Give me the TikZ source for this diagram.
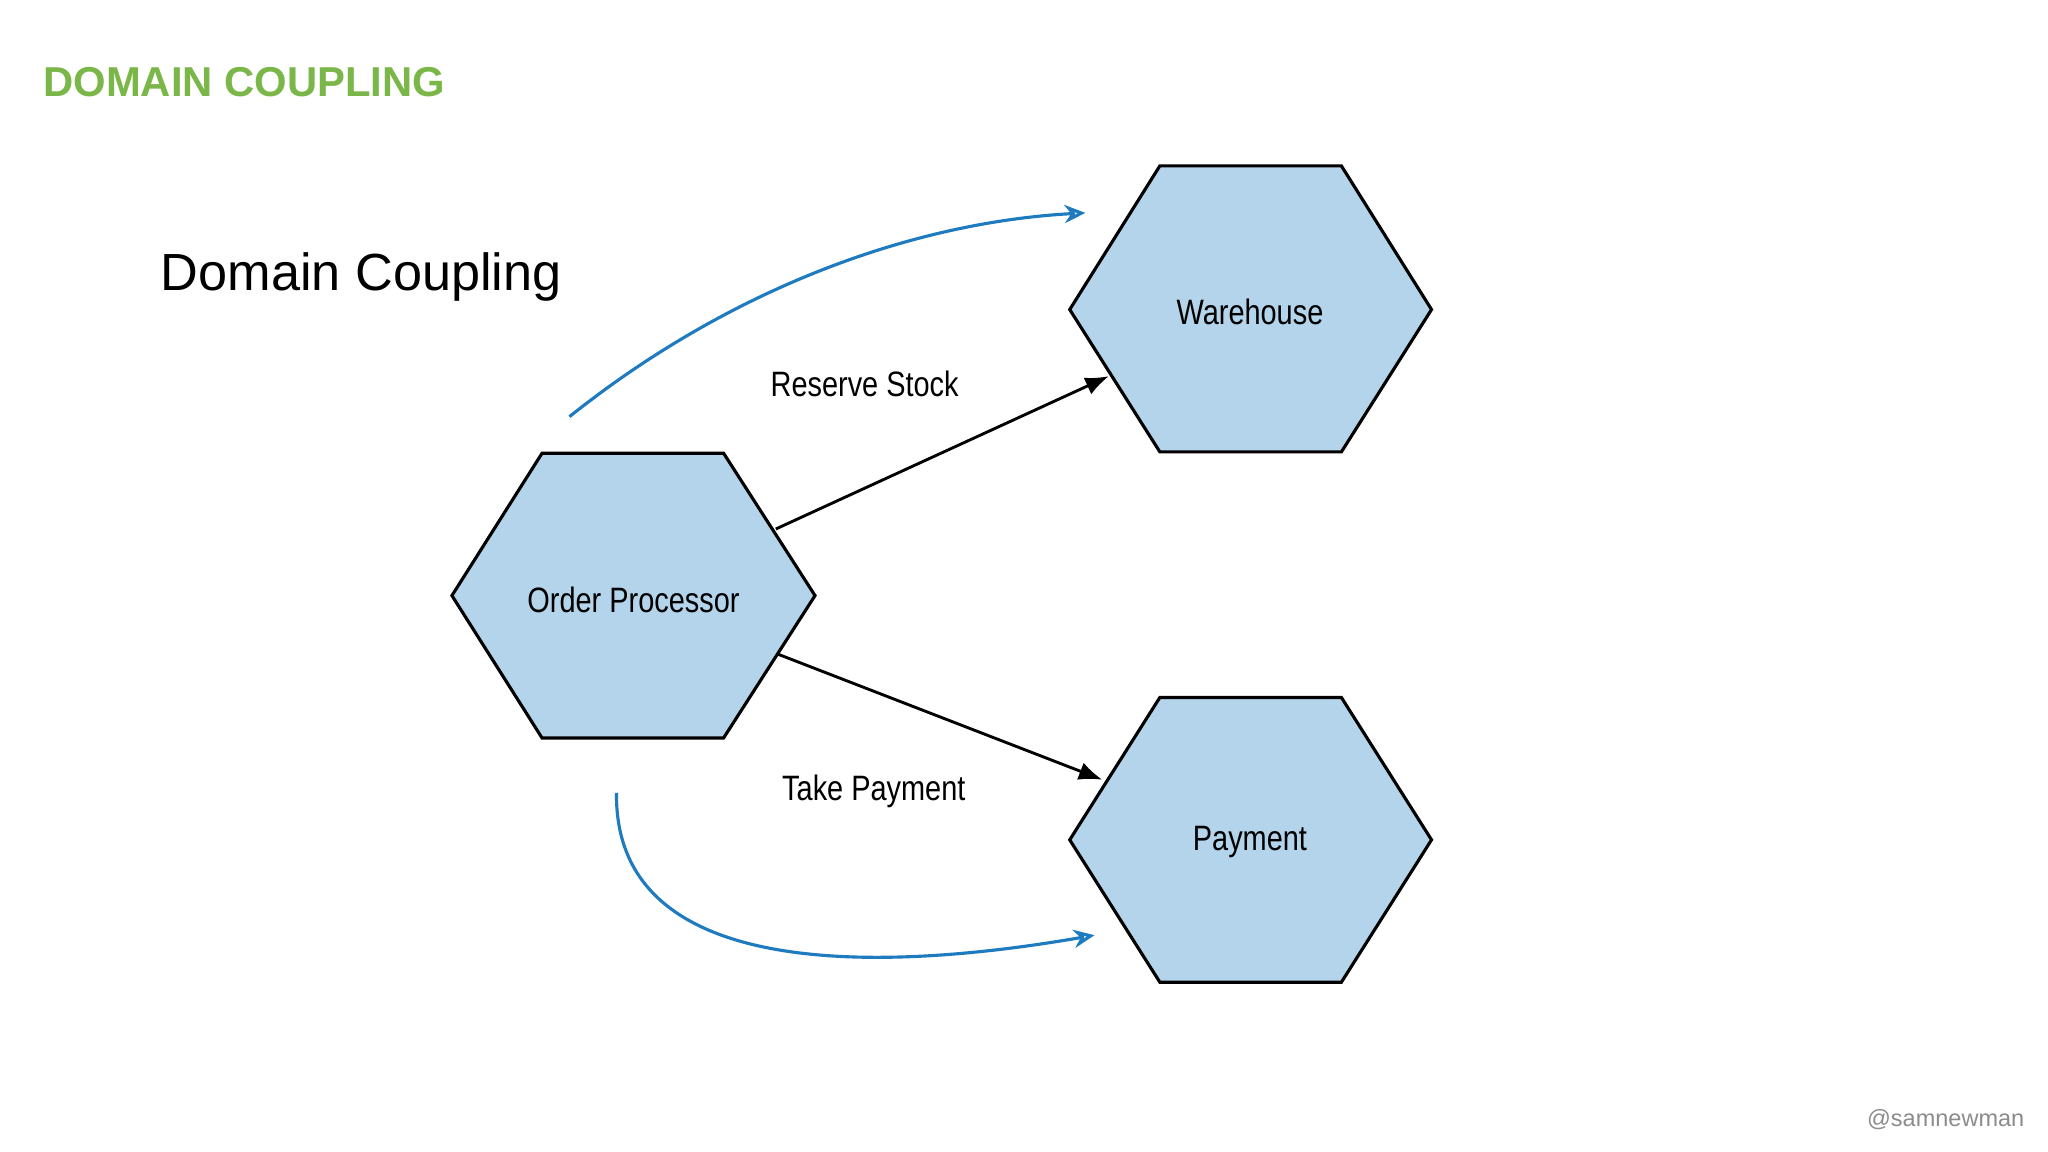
\documentclass[tikz,border=0pt]{standalone}
\usepackage{fontspec}
\setmainfont{Liberation Sans}
\usetikzlibrary{arrows.meta}
\definecolor{hexfill}{HTML}{B3D4EA}
\definecolor{titlegreen}{HTML}{7AB648}
\definecolor{curveblue}{HTML}{1F7BC0}
\tikzset{
  hexa/.style={draw=black, line width=2.4pt, fill=hexfill, line join=miter},
  lbl/.style={font=\fontsize{27}{30}\selectfont, inner sep=0pt},
  flow/.style={draw=black, line width=2.2pt, -{Latex[length=18pt,width=14pt]}},
  hand/.style={draw=curveblue, line width=2.4pt, -{Stealth[length=16pt,width=14pt,open]}}
}
\newcommand{\narrow}[1]{\scalebox{0.82}[1]{#1}}
\begin{document}
\begin{tikzpicture}[x=1pt,y=-1pt]
\useasboundingbox[fill=white] (0,0) rectangle (1568,882);
% hexagons
\draw[hexa] (888,127)--(1027,127)--(1096,237)--(1027,346)--(888,346)--(819,237)--cycle;
\draw[hexa] (415,347)--(554,347)--(624,456)--(554,565)--(415,565)--(346,456)--cycle;
\draw[hexa] (888,534)--(1027,534)--(1096,643)--(1027,752)--(888,752)--(819,643)--cycle;
\node[lbl] (wh) at (957,239) {\narrow{Warehouse}};
\node[lbl] (op) at (485,459) {\narrow{Order Processor}};
\node[lbl] (pay) at (957,645) {\narrow{Payment}};
% connectors
\coordinate (a1) at (594,405); \coordinate (a2) at (849,288);
\coordinate (b1) at (596,501); \coordinate (b2) at (844,597);
\draw[flow] (a1) -- (a2);
\draw[flow] (b1) -- (b2);
\node[lbl] (rs) at (662,294) {\narrow{Reserve Stock}};
\node[lbl] (tp) at (669,606) {\narrow{Take Payment}};
% blue hand curves
\coordinate (c1) at (436,319); \coordinate (c2) at (831,163);
\coordinate (d1) at (472,607); \coordinate (d2) at (838,716);
\draw[hand] (c1) .. controls (560,220) and (700,170) .. (c2);
\draw[hand] (d1) .. controls (470,760) and (700,740) .. (d2);
% titles
\node[anchor=west, font=\bfseries\fontsize{32}{36}\selectfont, text=titlegreen, inner sep=0pt] (title) at (33,63) {DOMAIN COUPLING};
\node[anchor=west, font=\fontsize{40}{44}\selectfont, inner sep=0pt] (sub) at (123,212) {Domain Coupling};
\node[anchor=east, font=\fontsize{18}{20}\selectfont, text=black!45, inner sep=0pt] (handle) at (1550,857) {@samnewman};
\end{tikzpicture}
\end{document}
